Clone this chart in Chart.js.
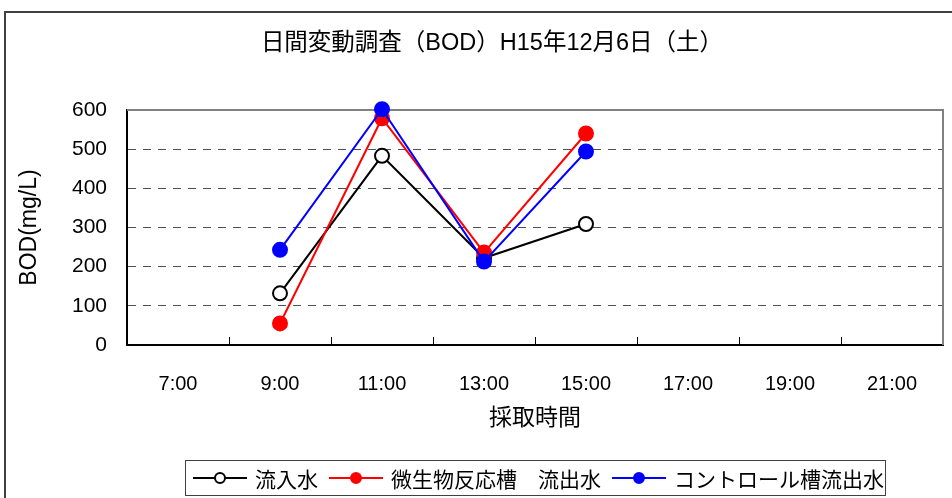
<!DOCTYPE html>
<html>
<head>
<meta charset="utf-8">
<script src="https://cdn.jsdelivr.net/npm/chart.js@4/dist/chart.umd.min.js"></script>
<style>
  body { margin: 0; background: #fff; font-family: "Liberation Sans", "Noto Sans CJK JP", sans-serif; }
  #wrap { position: relative; width: 952px; height: 498px; overflow: hidden; }
  #frame { position: absolute; left: 4px; top: 11px; width: 990px; height: 540px; border: 2px solid #404040; }
  #title { position: absolute; left: 0; top: 27px; width: 984px; text-align: center; font-size: 23.5px; line-height: 30px; color: #000; }
  #legend { position: absolute; left: 185px; top: 460px; width: 699px; height: 34px; border: 1px solid #404040;
            font-size: 21px; color: #000; white-space: nowrap; }
  .item { position: absolute; top: 0; height: 34px; display: flex; align-items: center; }
  .sample { position: relative; width: 54px; height: 12px; margin-right: 8px; }
  .sample .ln { position: absolute; left: 0; right: 0; top: 5px; height: 2px; }
  .sample .dot { position: absolute; left: 21px; top: 0; width: 8px; height: 8px; border-radius: 50%; border: 2px solid; }
</style>
</head>
<body>
<div id="wrap">
  <canvas id="chart" width="952" height="498"></canvas>
  <div id="frame"></div>
  <div id="title">日間変動調査（BOD）H15年12月6日（土）</div>
  <div id="legend">
    <div class="item" style="left:7px"><div class="sample"><div class="ln" style="background:#000"></div><div class="dot" style="border-color:#000;background:#fff"></div></div>流入水</div>
    <div class="item" style="left:143px"><div class="sample"><div class="ln" style="background:#ff0000"></div><div class="dot" style="border-color:#ff0000;background:#ff0000"></div></div>微生物反応槽　流出水</div>
    <div class="item" style="left:426px"><div class="sample"><div class="ln" style="background:#0000ff"></div><div class="dot" style="border-color:#0000ff;background:#0000ff"></div></div>コントロール槽流出水</div>
  </div>
</div>
<script>
const times = ['7:00', '9:00', '11:00', '13:00', '15:00', '17:00', '19:00', '21:00'];
const inflow = [null, 132, 483, 222, 309, null, null, null];
const reactorOut = [null, 55, 579, 236, 540, null, null, null];
const controlOut = [null, 243, 602, 213, 494, null, null, null];
const yTicks = [0, 100, 200, 300, 400, 500, 600];

Chart.defaults.font.family = '"Liberation Sans", "Noto Sans CJK JP", sans-serif';
Chart.defaults.color = '#000';

// gray frame on top/right and small ticks between categories
const plotFrame = {
    id: 'plotFrame',
    beforeDatasetsDraw(chart) {
        const { ctx, chartArea: a, scales } = chart;
        ctx.save();
        ctx.strokeStyle = '#808080';
        ctx.lineWidth = 2;
        ctx.beginPath();
        ctx.moveTo(a.left, a.top);
        ctx.lineTo(a.right, a.top);
        ctx.lineTo(a.right, a.bottom);
        ctx.stroke();
        ctx.strokeStyle = '#000';
        ctx.lineWidth = 1;
        const x = scales.x;
        for (let i = 1; i < times.length; i++) {
            const px = Math.round((x.getPixelForValue(i - 1) + x.getPixelForValue(i)) / 2) + 0.5;
            ctx.beginPath();
            ctx.moveTo(px, a.bottom);
            ctx.lineTo(px, a.bottom - 8);
            ctx.stroke();
        }
        ctx.restore();
    }
};

function series(data, color, filled, order) {
    return {
        data: data,
        borderColor: color,
        borderWidth: 2,
        pointRadius: 7,
        pointHoverRadius: 7,
        pointBorderWidth: 2,
        pointBorderColor: color,
        pointBackgroundColor: filled ? color : '#fff',
        spanGaps: false,
        tension: 0,
        clip: false,
        order: order
    };
}

new Chart(document.getElementById('chart'), {
    type: 'line',
    data: {
        labels: times,
        datasets: [
            series(inflow, '#000', false, 3),
            series(reactorOut, '#ff0000', true, 2),
            series(controlOut, '#0000ff', true, 1)
        ]
    },
    plugins: [plotFrame],
    options: {
        responsive: false,
        animation: false,
        layout: { padding: { left: 0, right: 5, top: 110, bottom: 0 } },
        plugins: { legend: { display: false }, title: { display: false }, tooltip: { enabled: false } },
        scales: {
            x: {
                offset: true,
                grid: { display: false },
                border: { color: '#000', width: 2 },
                ticks: { padding: 19, font: { size: 20 }, maxRotation: 0, autoSkip: false },
                title: { display: true, text: '採取時間', font: { size: 23 }, padding: { bottom: 66 } },
                afterFit(scale) {
                    scale.height = 153;
                    scale.paddingLeft = 0;
                    scale.paddingRight = 0;
                }
            },
            y: {
                min: 0,
                max: 600,
                afterBuildTicks(scale) { scale.ticks = yTicks.map(v => ({ value: v })); },
                grid: { color: '#505050', lineWidth: 1, drawTicks: false },
                border: { color: '#000', width: 2, dash: [8, 7] },
                ticks: { padding: 20, font: { size: 21 } },
                title: { display: true, text: 'BOD(mg/L)', font: { size: 23 }, padding: { top: 16 } },
                afterFit(scale) {
                    scale.width = 127;
                    scale.paddingTop = 0;
                    scale.paddingBottom = 0;
                }
            }
        }
    }
});
</script>
</body>
</html>
